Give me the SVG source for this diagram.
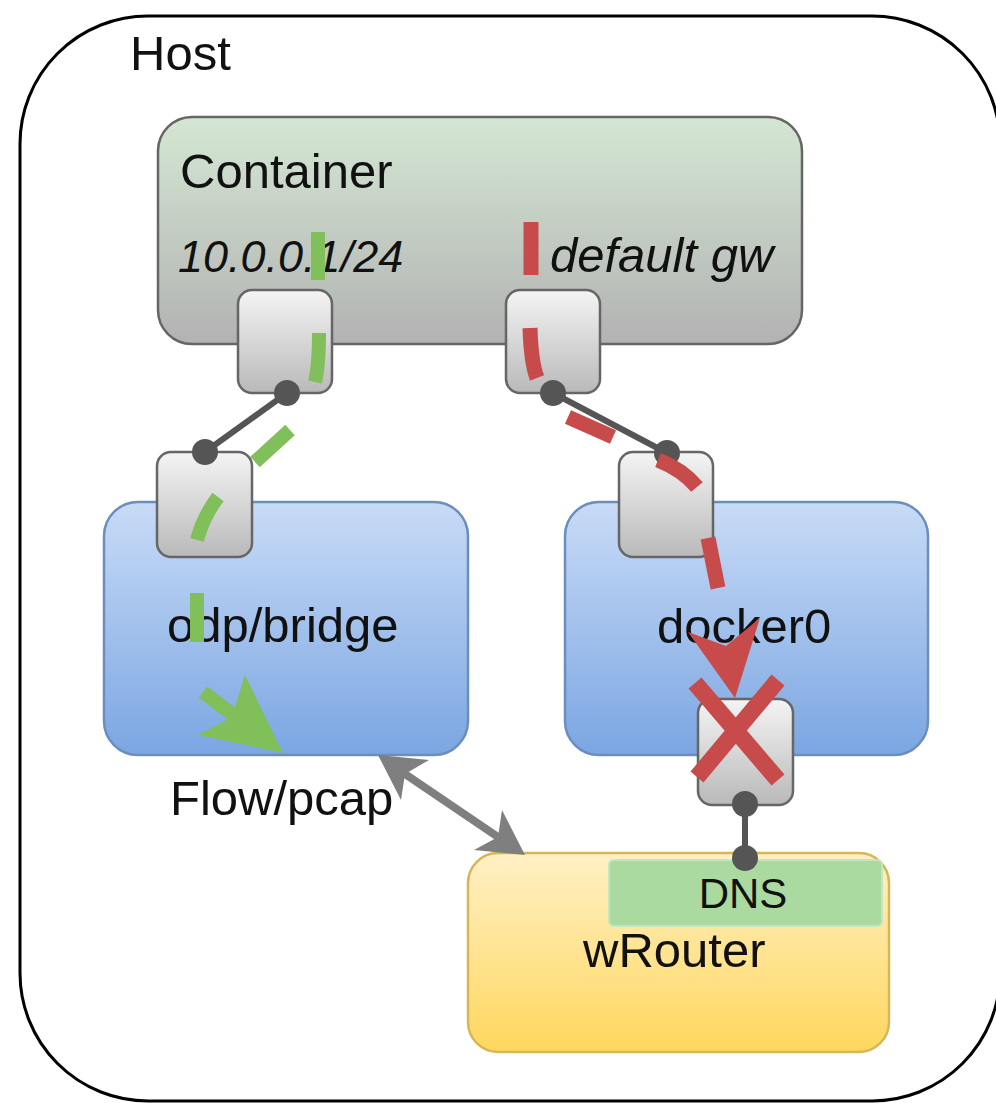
<svg xmlns="http://www.w3.org/2000/svg" width="996" height="1103" viewBox="0 0 996 1103">
<defs>
<linearGradient id="gCont" x1="0" y1="0" x2="0" y2="1"><stop offset="0" stop-color="#d4e7d3"/><stop offset="1" stop-color="#b2b2b2"/></linearGradient>
<linearGradient id="gPort" x1="0" y1="0" x2="0" y2="1"><stop offset="0" stop-color="#f4f4f4"/><stop offset="1" stop-color="#b9b9b9"/></linearGradient>
<linearGradient id="gBlue" x1="0" y1="0" x2="0" y2="1"><stop offset="0" stop-color="#c8dbf6"/><stop offset="1" stop-color="#7ba6e2"/></linearGradient>
<linearGradient id="gYel" x1="0" y1="0" x2="0" y2="1"><stop offset="0" stop-color="#fff0c6"/><stop offset="1" stop-color="#ffd75e"/></linearGradient>
</defs>
<style>
.lbl{font-family:"Liberation Sans",Arial,sans-serif;font-size:49px;fill:#111}
.it{font-style:italic}
.port{fill:url(#gPort);stroke:#666;stroke-width:2.5}
.blue{fill:url(#gBlue);stroke:#6c8ebf;stroke-width:2.5}
.link{stroke:#555;stroke-width:6;fill:none}
.dot{fill:#555}
.grn{stroke:#80bf5a;stroke-width:14;fill:none}
.red{stroke:#c84b4b;stroke-width:15;fill:none}
</style>
<rect width="996" height="1103" fill="#fff"/>
<g id="host">
<rect x="20" y="16" width="980" height="1085" rx="128" fill="#fff" stroke="#000" stroke-width="3"/>
<text class="lbl" x="130" y="70">Host</text>
</g>
<g id="container">
<rect x="158" y="117" width="644" height="227" rx="34" fill="url(#gCont)" stroke="#666" stroke-width="2.5"/>
<text class="lbl" x="180" y="188">Container</text>
<text class="lbl it" x="178" y="272" font-size="45" style="font-size:45px">10.0.0.1/24</text>
<text class="lbl it" x="550" y="272">default gw</text>
</g>
<g id="port-container-1"><rect class="port" x="238" y="290" width="94" height="103" rx="14"/></g>
<g id="port-container-2"><rect class="port" x="506" y="290" width="94" height="103" rx="14"/></g>
<g id="odp-bridge">
<rect class="blue" x="104" y="502" width="364" height="253" rx="34"/>
<text class="lbl" x="167" y="642">odp/bridge</text>
</g>
<g id="port-odp"><rect class="port" x="157" y="452" width="95" height="105" rx="14"/></g>
<g id="docker0">
<rect class="blue" x="565" y="502" width="363" height="253" rx="34"/>
<text class="lbl" x="657" y="643">docker0</text>
</g>
<g id="port-docker0-1"><rect class="port" x="619" y="452" width="94" height="105" rx="14"/></g>
<g id="port-docker0-2"><rect class="port" x="698" y="699" width="95" height="106" rx="14"/></g>
<g id="wrouter">
<rect x="468" y="853" width="421" height="199" rx="30" fill="url(#gYel)" stroke="#d6b656" stroke-width="2.5"/>
<rect x="609" y="860" width="273" height="66" rx="5" fill="#abdaa1" stroke="#c4e6bd" stroke-width="2"/>
<text class="lbl" x="743" y="908" text-anchor="middle" style="font-size:42px">DNS</text>
<text class="lbl" x="583" y="967">wRouter</text>
</g>
<g id="connectors">
<line class="link" x1="287" y1="393" x2="205" y2="452"/>
<line class="link" x1="553" y1="393" x2="667" y2="453"/>
<line class="link" x1="745" y1="804" x2="745" y2="858"/>
<circle class="dot" cx="287" cy="393" r="13"/>
<circle class="dot" cx="205" cy="452" r="13"/>
<circle class="dot" cx="553" cy="393" r="13"/>
<circle class="dot" cx="667" cy="453" r="13"/>
<circle class="dot" cx="745" cy="804" r="13"/>
<circle class="dot" cx="745" cy="858" r="13"/>
<g id="flow-pcap">
<line x1="405" y1="774" x2="498" y2="837" stroke="#7f7f7f" stroke-width="8"/>
<polygon points="378,755 429,760 405,774 401,800" fill="#7f7f7f"/>
<polygon points="525,855 474,850 498,837 502,810" fill="#7f7f7f"/>
<text class="lbl" x="170" y="815">Flow/pcap</text>
</g>
<g id="green-path">
<path class="grn" d="M318,232 L318,280"/>
<path class="grn" d="M319,333 Q319,365 315,382"/>
<path class="grn" d="M290,430 L255,462"/>
<path class="grn" d="M218,497 Q203,517 197,540"/>
<path class="grn" d="M197,593 L197,642"/>
<path class="grn" d="M203,692 L236,717"/>
<polygon points="283,753 245,675 232,717 198,735" fill="#80bf5a"/>
</g>
<g id="red-path">
<path class="red" d="M531,222 L531,275"/>
<path class="red" d="M530,328 Q531,362 537,378"/>
<path class="red" d="M568,417 L613,437"/>
<path class="red" d="M658,460 Q683,470 697,487"/>
<path class="red" d="M708,538 L718,588"/>
<polygon points="735,698 688,632 726,646 760,618" fill="#c84b4b"/>
<path d="M695,683 L778,780 M778,680 L697,777" stroke="#c84b4b" stroke-width="17" fill="none"/>
</g>
</g>
</svg>
